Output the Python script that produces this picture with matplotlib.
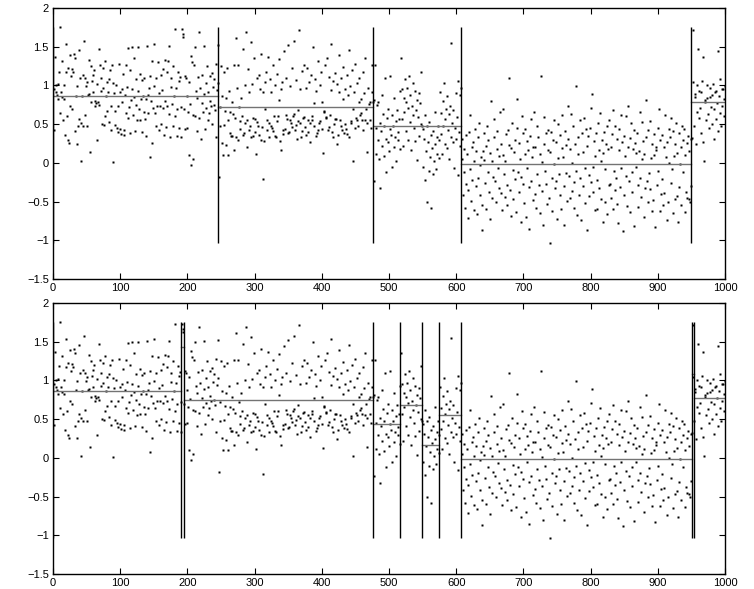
import numpy as np
import matplotlib
matplotlib.use("Agg")
import matplotlib.pyplot as plt
from matplotlib.ticker import FuncFormatter

# signal values (index 1..1000)
seg_a = [0.95, 0.43, 1.37, 0.92, 1.01, 0.88, 1.02, 0.83, 1.18, 0.65,
         1.76, 0.91, 0.85, 1.31, 0.56, 0.83, 1.00, 0.36, 1.17, 1.54,
         0.61, 0.29, 1.23, 0.26, 1.39, 0.74, 1.12, 1.21, 0.69, 1.17,
         1.40, 0.41, 1.36, 0.87, 0.25, 0.99, 0.47, 1.46, 0.57, 1.10,
         0.02, 0.51, 0.86, 0.48, 1.14, 1.57, 1.10, 0.62, 0.99, 0.48,
         1.05, 0.88, 0.89, 1.33, 0.14, 0.78, 1.25, 1.06, 0.92, 1.13,
         1.20, 0.80, 0.74, 0.77, 0.30, 1.02, 0.78, 1.47, 0.75, 1.27,
         0.93, 1.10, 0.50, 1.22, 0.97, 0.49, 1.32, 0.60, 0.86, 1.05,
         0.67, 0.92, 1.08, 0.53, 1.20, 0.74, 0.42, 1.27, 0.01, 1.03,
         0.90, 0.49, 0.67, 1.00, 0.45, 0.74, 0.40, 1.28, 0.91, 0.44,
         0.37, 0.79, 0.95, 1.15, 0.42, 0.36, 0.88, 1.26, 0.64, 0.98,
         0.58, 1.48, 0.72, 0.38, 1.20, 0.81, 0.96, 1.49, 0.62, 1.35,
         0.85, 0.41, 1.08, 0.75, 0.55, 1.49, 0.93, 0.70, 1.15, 0.56,
         0.83, 0.40, 1.07, 0.86, 0.66, 1.10, 0.57, 0.82, 0.35, 1.51,
         0.88, 0.65, 0.97, 1.12, 0.08, 0.80, 1.31, 0.26, 0.71, 0.99,
         1.53, 0.64, 1.09, 0.47, 0.74, 1.30, 0.90, 0.42, 0.73, 1.13,
         0.50, 0.94, 1.21, 0.71, 0.36, 1.33, 0.80, 0.46, 1.17, 0.74,
         1.31, 0.63, 1.51, 0.33, 0.98, 1.10, 0.76, 0.48, 1.25, 0.86,
         0.60, 1.73, 0.97, 0.69, 0.35, 1.18, 0.45, 1.06, 1.11, 0.34,
         0.72]
seg_b = [1.73, 1.67, 1.62, 0.70]
seg_c = [0.44, 1.12, 1.09, 0.45, 0.87, 0.66, 1.05, 0.10, 0.76, 1.38,
         -0.03, 1.30, 0.62, 0.05, 1.26, 0.60, 1.50, 0.93, 0.41, 0.84,
         1.11, 0.58, 1.69, 0.97, 0.31, 1.14, 0.77, 0.66, 1.51, 0.89,
         0.44, 1.03, 0.71, 1.25, 0.55, 0.92, 0.64, 1.12, 0.80, 0.73,
         1.16, 0.50, 0.98, 0.75, 1.08, 0.68, 1.28, 0.33, 0.94, 1.52]
seg_d = [1.03, -0.18, 0.72, 0.48, 1.25, 0.26, 0.86, 0.10, 0.49, 1.18,
         0.67, 0.23, 0.84, 1.22, 0.56, 0.10, 0.93, 0.39, 0.66, 0.35,
         0.35, 0.79, 0.63, 1.27, 0.16, 0.58, 1.61, 0.33, 0.97, 0.30,
         1.26, 0.72, 0.44, 0.54, 0.84, 0.61, 1.47, 0.36, 0.38, 1.00,
         0.51, 1.69, 0.55, 0.20, 1.21, 0.43, 0.92, 0.47, 1.56, 0.34,
         1.02, 0.58, 0.35, 1.35, 0.40, 0.57, 0.12, 1.09, 0.53, 0.48,
         1.13, 0.36, 0.95, 0.29, 1.41, 0.46, -0.21, 0.92, 0.28, 1.04,
         0.69, 1.18, 0.42, 0.55, 1.37, 0.33, 0.51, 1.08, 0.47, 0.92,
         0.45, 1.26, 0.41, 0.60, 1.01, 0.35, 0.34, 1.15, 0.54, 0.60,
         0.81, 1.34, 0.28, 0.16, 0.96, 1.05, 0.37, 0.43, 1.45, 0.44,
         0.62, 1.10, 0.57, 0.38, 1.52, 0.40, 0.55, 0.99, 0.51, 0.46,
         1.22, 0.60, 0.63, 1.58, 0.43, 0.49, 1.07, 0.31, 0.54, 0.68,
         1.72, 0.52, 0.95, 0.34, 1.19, 0.41, 0.58, 1.26, 0.59, 0.46,
         0.97, 0.36, 1.23, 0.40, 0.55, 1.04, 0.52, 0.27, 1.13, 0.61,
         0.56, 1.49, 0.48, 0.77, 1.08, 0.35, 0.93, 0.39, 1.31, 0.42,
         0.51, 1.00, 0.54, 1.18, 0.44, 0.79, 0.13, 0.66, 0.67, 1.27,
         0.58, 0.59, 1.35, 0.43, 0.46, 1.11, 0.62, 0.94, 1.53, 0.40,
         0.33, 1.06, 0.50, 0.57, 1.16, 0.57, 0.24, 1.02, 0.36, 0.91,
         1.39, 0.55, 0.48, 1.09, 0.43, 0.82, 1.24, 0.38, 0.96, 0.50,
         0.44, 1.14, 0.37, 0.88, 1.46, 0.33, 0.99, 0.54, 0.51, 1.20,
         0.69, 0.02, 0.92, 0.45, 1.28, 0.58, 0.55, 1.03, 0.47, 0.79,
         1.10, 0.62, 0.64, 0.83, 0.56, 1.17, 0.42, 0.90, 0.55, 1.35,
         0.70, 0.52, 0.14, 0.97, 0.76, 0.56, 0.78, 0.45, 0.92, 1.27, 0.79]
seg_e = [0.81, -0.24, 1.27, 0.45, 0.12, 0.75, 0.30, 0.78, 0.05, 0.52,
         -0.33, 0.41, 0.88, 0.22, 0.63, 0.09, 0.47, 1.10, 0.31, -0.12,
         0.58, 0.27, 0.70, 0.15, 0.44, 1.12, 0.36, -0.05, 0.62, 0.48,
         0.21, 0.84, 0.33, 0.54, 0.02, 0.68, 0.29, 0.40, 0.57, 0.18,
         0.93]
seg_f = [1.36, 0.57, 0.95, 0.22, 0.84, 0.66, 1.08, 0.41, 0.79, 0.97,
         0.30, 0.71, 1.12, 0.53, 0.88, 0.16, 0.74, 0.62, 1.03, 0.45,
         0.93, 0.28, 0.68, 0.81, 0.04, 0.59, 0.90, 0.35, 0.77, 0.50,
         1.18, 0.48]
seg_g = [0.44, -0.05, 0.31, 0.62, -0.22, 0.15, 0.48, -0.50, 0.27, -0.10,
         0.53, 0.08, -0.58, 0.36, 0.19, -0.15, 0.41, 0.02, 0.66, 0.24,
         -0.08, 0.33, 0.12, 0.47, 0.06, 0.29]
seg_h = [0.92, 0.37, 0.64, 0.11, 0.80, 0.48, 1.03, 0.25, 0.57, 0.70,
         0.19, 0.86, 0.42, 0.63, 0.05, 0.74, 1.55, 0.33, 0.52, 0.27,
         0.68, -0.06, 0.45, 0.90, 0.31, 0.59, -0.16, 1.06, 0.40, 0.88,
         0.22, 0.97]
seg_i = [0.31, 0.05, -0.42, -0.12, 0.18, -0.58, -0.27, 0.36, 0.12, -0.71,
         -0.35, 0.40, 0.62, -0.08, -0.49, -0.22, 0.21, 0.27, -0.61, 0.02,
         0.44, 0.15, -0.30, -0.66, -0.19, 0.34, 0.51, -0.03, -0.42, 0.08,
         -0.87, -0.54, 0.15, 0.38, 0.04, -0.26, -0.60, 0.22, 0.47, -0.12,
         0.29, -0.38, -0.73, 0.13, 0.80, 0.02, -0.45, -0.18, 0.57, 0.33,
         -0.24, -0.50, 0.18, 0.41, -0.07, -0.32, 0.09, 0.66, 0.25, -0.39,
         -0.61, 0.10, 0.69, -0.15, -0.44, 0.03, 0.37, -0.28, -0.55, 0.42,
         1.10, 0.23, -0.35, -0.68, 0.19, 0.52, -0.09, -0.47, 0.14, 0.30,
         -0.21, -0.63, 0.45, 0.83, -0.12, -0.37, 0.26, 0.05, -0.76, -0.18,
         0.61, 0.39, -0.27, -0.52, 0.11, 0.44, -0.70, -0.06, 0.28, 0.16,
         -0.85, -0.31, 0.35, 0.57, -0.23, 0.07, -0.48, 0.20, 0.66, -0.40,
         0.21, -0.58, -0.14, 0.48, 0.33, -0.29, -0.65, 0.12, 1.12, 0.01,
         -0.36, -0.80, 0.25, 0.59, -0.11, 0.38, -0.27, -0.53, 0.17, 0.43,
         -0.46, -1.04, 0.14, 0.40, -0.19, -0.62, 0.29, 0.55, -0.02, -0.33,
         0.27, -0.24, -0.72, 0.50, 0.06, -0.15, 0.36, -0.41, -0.60, 0.19,
         0.62, 0.08, -0.80, -0.30, 0.41, 0.23, -0.13, -0.49, 0.31, 0.73,
         -0.17, -0.45, 0.18, 0.63, -0.36, 0.00, 0.47, -0.58, -0.25, 0.24,
         0.99, -0.11, -0.67, 0.33, 0.12, -0.41, 0.55, -0.20, -0.74, 0.38,
         0.14, -0.30, 0.58, -0.52, -0.07, 0.44, -0.87, 0.22, 0.35, -0.16,
         -0.43, 0.45, 0.71, -0.25, 0.89, -0.05, -0.38, 0.28, -0.61, 0.09,
         0.38, -0.59, -0.22, 0.52, 0.17, -0.33, 0.64, -0.47, 0.03, 0.30,
         -0.77, 0.13, 0.40, -0.08, -0.51, 0.25, -0.66, 0.47, 0.18, -0.29,
         0.56, -0.27, -0.46, 0.20, 0.37, -0.60, 0.68, -0.10, 0.48, -0.35,
         -0.20, 0.31, -0.53, -0.78, 0.16, 0.44, -0.31, 0.62, -0.06, 0.27,
         -0.88, -0.42, 0.35, 0.09, 0.60, -0.17, -0.56, 0.20, 0.74, -0.24,
         0.32, -0.64, 0.51, -0.12, -0.37, 0.18, 0.42, -0.81, 0.26, -0.05,
         0.13, 0.39, -0.28, -0.57, 0.15, 0.66, -0.19, -0.44, 0.05, 0.53,
         0.28, -0.70, 0.12, -0.33, 0.34, 0.81, -0.23, -0.51, 0.43, -0.13,
         -0.34, 0.54, 0.06, -0.62, 0.25, -0.48, 0.10, 0.37, -0.83, 0.21,
         0.16, -0.29, 0.45, -0.10, 0.70, -0.62, 0.30, -0.40, -0.21, 0.36,
         -0.55, 0.20, -0.39, 0.62, 0.08, -0.74, 0.27, -0.50, 0.44, 0.00,
         0.33, -0.26, 0.58, -0.08, 0.41, -0.65, 0.09, 0.24, -0.47, 0.52,
         -0.43, 0.13, -0.76, -0.31, 0.38, -0.02, 0.21, -0.55, 0.47, 0.29,
         -0.12, 0.44, -0.64, 0.10, -0.38, 0.26, -0.46, 0.35, -0.47, 0.15,
         -0.50, 0.31, -0.30]
seg_j = [0.32, 1.71, 1.05, 0.48]
seg_k = [0.89, 0.85, 0.24, 1.00, 0.66, 1.47, 0.58, 0.93, 0.71, 0.92,
         0.38, 1.06, 0.27, 1.37, 0.02, 0.79, 0.81, 0.55, 0.84, 1.00,
         0.63, 0.45, 0.97, 0.85, 0.72, 0.50, 0.88, 1.02, 0.31, 0.69,
         0.91, 0.57, 0.93, 0.77, 1.44, 0.41, 0.86, 0.65, 1.08, 0.48,
         0.74, 0.95, 0.96, 0.60, 0.82, 0.99]

# change points found by the two methods
cps_top = [0, 245, 476, 607, 950]
cps_bottom = [0, 191, 195, 476, 517, 549, 575, 607, 951, 954]

xticks = [0, 100, 200, 300, 400, 500, 600, 700, 800, 900, 1000]
yticks = [-1.5, -1, -0.5, 0, 0.5, 1, 1.5, 2]

y = np.array(seg_a + seg_b + seg_c + seg_d + seg_e + seg_f + seg_g
             + seg_h + seg_i + seg_j + seg_k)
x = np.arange(1, len(y) + 1)
n_end = len(y)

plt.rcParams['font.family'] = ['Liberation Sans', 'DejaVu Sans']

fig = plt.figure(figsize=(7.54, 5.89), dpi=100)
ax1 = fig.add_axes([0.0703, 0.5263, 0.8912, 0.4601])
ax2 = fig.add_axes([0.0703, 0.0255, 0.8912, 0.4601])


def fmt(v, pos):
    s = '%g' % v
    return s.replace('-', '\u2212')


def draw(ax, cps):
    ax.plot(x, y, 's', ms=1.7, color='k', mec='none')
    bounds = cps + [n_end]
    for a, b in zip(bounds[:-1], bounds[1:]):
        seg = y[(x > a) & (x <= b)]
        if len(seg):
            ax.plot([a, b], [seg.mean(), seg.mean()], color='0.45', lw=1)
    ax.vlines(cps, y.min(), y.max(), color='k', lw=1)
    ax.set_xlim(0, 1000)
    ax.set_ylim(-1.5, 2)
    ax.set_xticks(xticks)
    ax.set_yticks(yticks)
    ax.yaxis.set_major_formatter(FuncFormatter(fmt))
    ax.tick_params(direction='in', length=4, width=0.8, labelsize=8,
                   top=True, right=True, pad=3)
    for sp in ax.spines.values():
        sp.set_linewidth(1)


draw(ax1, cps_top)
draw(ax2, cps_bottom)

fig.savefig('out.png', dpi=100)
